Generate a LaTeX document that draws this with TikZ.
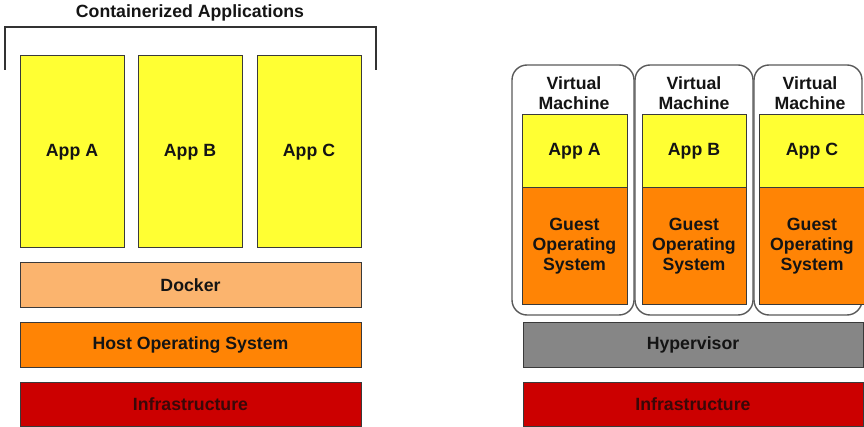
\documentclass[tikz,border=0pt]{standalone}
\usepackage{fontspec}
\setmainfont{Liberation Sans}
\usetikzlibrary{positioning}

\definecolor{appyellow}{HTML}{FFFF33}
\definecolor{dockerorange}{HTML}{FBB46E}
\definecolor{osorange}{HTML}{FF8405}
\definecolor{infrared}{HTML}{CC0000}
\definecolor{hypergray}{HTML}{868686}
\definecolor{edgegray}{HTML}{3A3A3A}
\definecolor{infratext}{HTML}{3A0808}

\tikzset{
  layer/.style={draw=edgegray,line width=1pt,inner sep=0pt,outer sep=0pt,
    anchor=north west,align=center,text=black!92,
    font=\fontsize{17.7}{20}\selectfont\bfseries},
  vmbox/.style={draw=black!65,line width=1.4pt,rounded corners=15pt,
    inner sep=0pt,outer sep=0pt,anchor=north west},
  lbl/.style={align=center,text=black!92,font=\fontsize{17.7}{20}\selectfont\bfseries}
}

\begin{document}
\begin{tikzpicture}[x=1pt,y=-1pt]
  \useasboundingbox (0,0) rectangle (864,427);
  \clip (0,0) rectangle (864,427);

  % --- contenedores (izquierda)
  \node[lbl] (title) at (190,13) {Containerized Applications};
  \coordinate (brL) at (5,70); \coordinate (brR) at (376,70);
  \draw[black!80,line width=1.3pt] (brL) |- (376,27) -- (brR);

  \node[layer,fill=appyellow,minimum width=104,minimum height=192] (cappA) at (20,56) {App A};
  \node[layer,fill=appyellow,minimum width=104,minimum height=192] (cappB) at (138,56) {App B};
  \node[layer,fill=appyellow,minimum width=104,minimum height=192] (cappC) at (257,56) {App C};
  \node[layer,fill=dockerorange,minimum width=341,minimum height=45] (docker) at (20,263) {Docker};
  \node[layer,fill=osorange,minimum width=341,minimum height=44] (hostos) at (20,323) {Host Operating System};
  \node[layer,fill=infrared,text=infratext,minimum width=341,minimum height=44] (infraL) at (20,382) {Infrastructure};

  % --- maquinas virtuales (derecha)
  \node[vmbox,minimum width=122,minimum height=250] (vm1) at (512,65) {};
  \node[vmbox,minimum width=118,minimum height=250] (vm2) at (635,65) {};
  \node[vmbox,minimum width=108,minimum height=250] (vm3) at (754,65) {};
  \node[lbl] (vm1lbl) at (574,93) {Virtual\\Machine};
  \node[lbl] (vm2lbl) at (694,93) {Virtual\\Machine};
  \node[lbl] (vm3lbl) at (810,93) {Virtual\\Machine};

  \node[layer,fill=appyellow,minimum width=105,minimum height=73] (vappA) at (522,115) {App A};
  \node[layer,fill=appyellow,minimum width=104,minimum height=73] (vappB) at (642,115) {App B};
  \node[layer,fill=appyellow,minimum width=106,minimum height=73] (vappC) at (759,115) {App C};
  \node[layer,fill=osorange,minimum width=105,minimum height=117] (guestA) at (522,188) {Guest\\Operating\\System};
  \node[layer,fill=osorange,minimum width=104,minimum height=117] (guestB) at (642,188) {Guest\\Operating\\System};
  \node[layer,fill=osorange,minimum width=106,minimum height=117] (guestC) at (759,188) {Guest\\Operating\\System};

  \node[layer,fill=hypergray,minimum width=340,minimum height=44] (hyper) at (523,323) {Hypervisor};
  \node[layer,fill=infrared,text=infratext,minimum width=340,minimum height=44] (infraR) at (523,382) {Infrastructure};
\end{tikzpicture}
\end{document}
